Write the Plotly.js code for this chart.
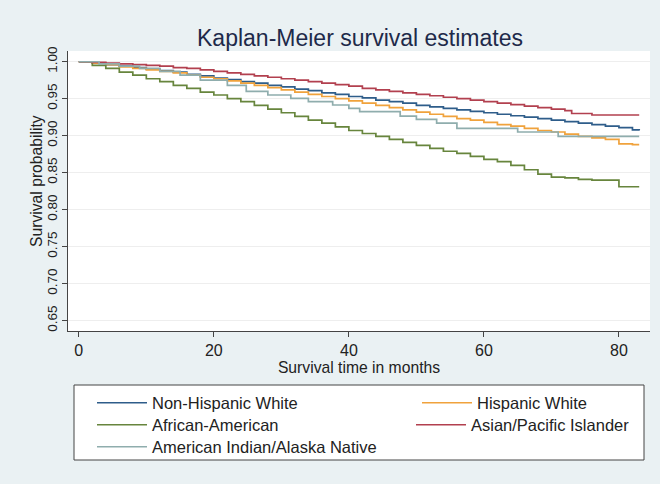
<!DOCTYPE html>
<html>
<head>
<meta charset="utf-8">
<script src="https://cdn.plot.ly/plotly-3.0.1.min.js"></script>
<style>html,body{margin:0;padding:0;background:#eaf1f3;}</style>
</head>
<body>
<div id="chart" style="width:660px;height:484px;"></div>
<script>
// Series names
const seriesNames = ["Non-Hispanic White", "Hispanic White", "African-American", "Asian/Pacific Islander", "American Indian/Alaska Native"];

// Months (shared grid for the three large groups)
const monthsGrid = [0,2,4,6,8,10,12,14,16,18,20,22,24,26,28,30,32,34,36,38,40,42,44,46,48,50,52,54,56,58,60,62,64,66,68,70,72,74,76,78,80,82,83];

const survNHW = [1.000,0.998,0.996,0.994,0.992,0.990,0.988,0.986,0.983,0.981,0.978,0.976,0.973,0.971,0.968,0.966,0.963,0.961,0.958,0.956,0.953,0.951,0.948,0.946,0.944,0.941,0.939,0.937,0.935,0.933,0.931,0.929,0.927,0.925,0.923,0.921,0.919,0.917,0.915,0.913,0.911,0.908,0.907];

const survHW = [1.000,0.998,0.996,0.993,0.991,0.989,0.987,0.985,0.982,0.979,0.977,0.974,0.971,0.968,0.965,0.962,0.959,0.956,0.953,0.950,0.947,0.944,0.941,0.938,0.935,0.932,0.929,0.926,0.923,0.921,0.918,0.915,0.913,0.910,0.907,0.905,0.902,0.899,0.897,0.895,0.889,0.888,0.888];

const survAA = [1.000,0.995,0.991,0.986,0.982,0.977,0.973,0.968,0.964,0.959,0.955,0.950,0.946,0.941,0.936,0.931,0.926,0.921,0.917,0.912,0.907,0.903,0.899,0.895,0.891,0.887,0.883,0.879,0.876,0.872,0.868,0.865,0.860,0.854,0.848,0.844,0.843,0.841,0.840,0.840,0.831,0.831,0.831];

const monthsAPI = [0,2,4,6,8,10,12,14,16,18,20,22,24,26,28,30,32,34,36,38,40,42,44,46,48,50,52,54,56,58,60,62,64,66,68,70,72,73,76,83];
const survAPI = [1.000,0.999,0.998,0.997,0.996,0.995,0.994,0.992,0.991,0.989,0.987,0.985,0.983,0.981,0.979,0.977,0.975,0.973,0.971,0.969,0.967,0.964,0.962,0.960,0.958,0.956,0.954,0.952,0.950,0.948,0.946,0.944,0.942,0.940,0.938,0.936,0.934,0.930,0.928,0.928];

const monthsAIAN = [0,3,6,9,12,15,18,22,24.8,28,31.4,34,37.6,40,41.6,47.6,50,53,56,65,71,83];
const survAIAN = [1.000,0.997,0.994,0.991,0.987,0.982,0.975,0.968,0.960,0.955,0.9505,0.946,0.9415,0.937,0.9325,0.9266,0.922,0.917,0.910,0.905,0.899,0.899];

const xTicks = [0,20,40,60,80];
const yTicks = [0.65,0.70,0.75,0.80,0.85,0.90,0.95,1.00];
const yTickText = ["0.65","0.70","0.75","0.80","0.85","0.90","0.95","1.00"];

const colors = ["#2e5d8a", "#f0a23c", "#67853d", "#b2404f", "#8fadad"];
const legendIds = ["legend", "legend2", "legend3", "legend4", "legend5"];
// legend placement (container pixels): left edge and row centre for each entry
const legendPx = [[92, 403], [417, 403], [92, 425], [411, 425], [92, 447]];

const xs = [monthsGrid, monthsGrid, monthsGrid, monthsAPI, monthsAIAN];
const ys = [survNHW, survHW, survAA, survAPI, survAIAN];

const traces = seriesNames.map((n, i) => ({
  type: "scatter",
  mode: "lines",
  name: n,
  x: xs[i],
  y: ys[i],
  legend: legendIds[i],
  line: {color: colors[i], width: 1.7, shape: "hv"}
}));

const font = "Liberation Sans, Arial, sans-serif";

const layout = {
  width: 660,
  height: 484,
  paper_bgcolor: "#eaf1f3",
  plot_bgcolor: "#ffffff",
  margin: {l: 68, r: 10, t: 51, b: 153, autoexpand: false},
  font: {family: font, color: "#222222"},
  title: {
    text: "Kaplan-Meier survival estimates",
    font: {family: font, size: 23, color: "#1e2a4a"},
    x: 360/660, xanchor: "center", xref: "container",
    y: 1 - 38/484, yanchor: "middle", yref: "container"
  },
  xaxis: {
    range: [-1.6, 84.6],
    tickvals: xTicks,
    ticks: "outside", ticklen: 5, tickcolor: "#444", tickwidth: 1,
    showline: true, linecolor: "#444", linewidth: 1,
    showgrid: false, zeroline: false,
    tickfont: {size: 16, color: "#222"},
    title: {text: "Survival time in months", font: {size: 15.7, color: "#222"}, standoff: 0}
  },
  yaxis: {
    range: [0.636, 1.0145],
    tickvals: yTicks, ticktext: yTickText,
    tickangle: -90,
    ticks: "outside", ticklen: 5, tickcolor: "#444", tickwidth: 1,
    showline: true, linecolor: "#444", linewidth: 1,
    showgrid: true, gridcolor: "#eeeeee", gridwidth: 1, zeroline: false,
    tickfont: {size: 13.5, color: "#222"}
  },
  annotations: [{
    text: "Survival probability",
    xref: "paper", yref: "paper",
    x: (36 - 68) / 582, y: (331 - 181) / 280,
    xanchor: "center", yanchor: "middle",
    textangle: -90, showarrow: false,
    font: {family: font, size: 15.7, color: "#222"}
  }],
  showlegend: true,
  shapes: [{
    type: "rect", xref: "paper", yref: "paper",
    x0: (74 - 68) / 582, x1: (644 - 68) / 582,
    y0: (331 - 460) / 280, y1: (331 - 385) / 280,
    fillcolor: "#ffffff", line: {color: "#444444", width: 1},
    layer: "below"
  }]
};

legendIds.forEach((id, i) => {
  layout[id] = {
    orientation: "v",
    xref: "container", yref: "container",
    x: legendPx[i][0] / 660, xanchor: "left",
    y: 1 - legendPx[i][1] / 484, yanchor: "middle",
    bgcolor: "rgba(0,0,0,0)",
    borderwidth: 0,
    itemwidth: 50,
    font: {family: font, size: 16.5, color: "#222"}
  };
});

Plotly.newPlot("chart", traces, layout, {staticPlot: true, displayModeBar: false});
</script>
</body>
</html>
